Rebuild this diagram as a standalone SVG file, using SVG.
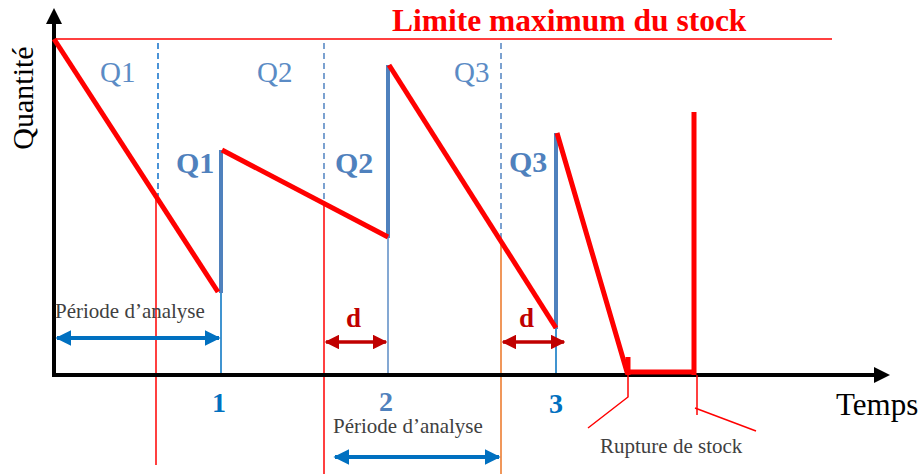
<svg xmlns="http://www.w3.org/2000/svg" width="922" height="474" viewBox="0 0 922 474">
<style>
.serif{font-family:"Liberation Serif","Times New Roman",serif}
.saw{stroke:#FF0000;stroke-width:5;fill:none;stroke-linejoin:miter}
.thinred{stroke:#FF0000;stroke-width:1.5;fill:none}
.dash1{stroke:#1F78CC;stroke-width:1.6;stroke-dasharray:6 4}
.dash2{stroke:#5B8BC5;stroke-width:1.6;stroke-dasharray:6 4}
.qlab{fill:#5B8BC5;font-size:29px}
.qbold{fill:#4F81BD;font-size:30px;font-weight:bold}
.period{fill:#404040;font-size:21px}
.darrow{stroke:#C00000;stroke-width:3.5}
.barrow{stroke:#0070C0;stroke-width:4}
</style>
<defs>
<marker id="ab" viewBox="0 0 10 10" refX="9" refY="5" markerWidth="4" markerHeight="4" orient="auto-start-reverse" markerUnits="strokeWidth">
<path d="M0,0 L10,5 L0,10 Z" fill="#0070C0"/>
</marker>
<marker id="ar" viewBox="0 0 10 10" refX="9" refY="5" markerWidth="4.2" markerHeight="4.2" orient="auto-start-reverse" markerUnits="strokeWidth">
<path d="M0,0 L10,5 L0,10 Z" fill="#C00000"/>
</marker>
</defs>

<g id="limit">
<line x1="54" y1="39" x2="832" y2="39" stroke="#FF0000" stroke-width="1.5"/>
<text class="serif" x="392" y="31" font-size="31.5" font-weight="bold" fill="#FF0000">Limite maximum du stock</text>
</g>

<g id="dashes">
<line class="dash1" x1="158" y1="43" x2="158" y2="196"/>
<line class="thinred" x1="156" y1="194" x2="156" y2="465"/>
<line class="dash2" x1="324" y1="43" x2="324" y2="203"/>
<line class="thinred" x1="324" y1="201" x2="324" y2="474"/>
<line class="dash2" x1="501" y1="43" x2="501" y2="238"/>
<line x1="501" y1="238" x2="501" y2="474" stroke="#ED7D31" stroke-width="1.6"/>
</g>

<g id="ticks">
<line x1="221" y1="292" x2="221" y2="375" stroke="#0070C0" stroke-width="1.5"/>
<line x1="388" y1="237" x2="388" y2="375" stroke="#5B8BC5" stroke-width="1.5"/>
<line x1="556" y1="328" x2="556" y2="375" stroke="#0070C0" stroke-width="1.5"/>
</g>

<g id="axes">
<line x1="54" y1="377" x2="54" y2="20" stroke="#000" stroke-width="4"/>
<path d="M54,8 L62,24 L46,24 Z" fill="#000"/>
<line x1="52" y1="375" x2="877" y2="375" stroke="#000" stroke-width="4"/>
<path d="M890,375 L874,367 L874,383 Z" fill="#000"/>
<text class="serif" transform="translate(33,98) rotate(-90)" text-anchor="middle" font-size="30" fill="#000">Quantité</text>
<text class="serif" x="836" y="415" font-size="31" fill="#000">Temps</text>
</g>

<g id="replenish">
<line x1="221" y1="150" x2="221" y2="293" stroke="#4F81BD" stroke-width="4"/>
<line x1="388" y1="65" x2="388" y2="238" stroke="#4F81BD" stroke-width="4"/>
<line x1="556" y1="133" x2="556" y2="329" stroke="#4F81BD" stroke-width="4"/>
</g>

<g id="stock">
<polyline class="saw" points="54,39 218,292"/>
<polyline class="saw" points="222,150 388,237"/>
<polyline class="saw" points="389,65 556,328"/>
<polyline class="saw" points="557,133 627,372 696,372"/>
<line class="saw" x1="628" y1="357" x2="628" y2="375"/>
<line class="saw" x1="694" y1="112" x2="694" y2="375"/>
</g>

<g id="qlabels" class="serif">
<text class="qlab" x="100" y="82">Q1</text>
<text class="qlab" x="257" y="82">Q2</text>
<text class="qlab" x="454" y="82">Q3</text>
<text class="qbold" x="176" y="173">Q1</text>
<text class="qbold" x="335" y="173">Q2</text>
<text class="qbold" x="509" y="172">Q3</text>
</g>

<g id="period1">
<text class="serif period" x="55" y="318">Période d’analyse</text>
<line class="barrow" x1="57" y1="338" x2="219" y2="338" marker-start="url(#ab)" marker-end="url(#ab)"/>
</g>
<g id="period2">
<text class="serif period" x="333" y="433">Période d’analyse</text>
<line class="barrow" x1="335" y1="457" x2="499" y2="457" marker-start="url(#ab)" marker-end="url(#ab)"/>
</g>

<g id="delay1">
<text class="serif" x="346" y="327" font-size="27" font-weight="bold" fill="#C00000">d</text>
<line class="darrow" x1="326" y1="342" x2="386" y2="342" marker-start="url(#ar)" marker-end="url(#ar)"/>
</g>
<g id="delay2">
<text class="serif" x="519" y="327" font-size="27" font-weight="bold" fill="#C00000">d</text>
<line class="darrow" x1="503" y1="342" x2="564" y2="342" marker-start="url(#ar)" marker-end="url(#ar)"/>
</g>

<g id="numbers" class="serif" font-size="28" font-weight="bold">
<text x="219" y="412" text-anchor="middle" fill="#0070C0">1</text>
<text x="386" y="411" text-anchor="middle" fill="#4F81BD">2</text>
<text x="556" y="413" text-anchor="middle" fill="#0070C0">3</text>
</g>

<g id="rupture">
<polyline class="thinred" points="628,375 628,397 588,428"/>
<polyline class="thinred" points="697,375 697,415"/>
<line class="thinred" x1="695" y1="408" x2="756" y2="431"/>
<text class="serif" x="600" y="453" font-size="21" fill="#404040">Rupture de stock</text>
</g>
</svg>
